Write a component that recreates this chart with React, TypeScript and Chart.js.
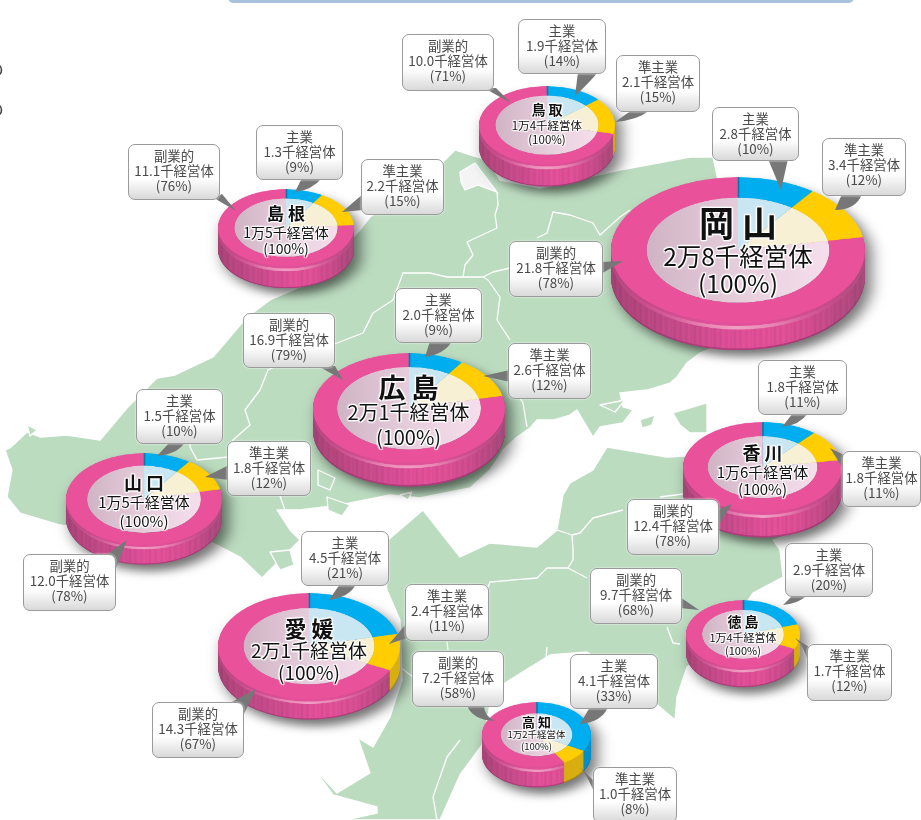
import React, { useEffect, useRef } from "react";
import { Chart, registerables } from "chart.js";

Chart.register(...registerables);

const FONT = '"Noto Sans CJK JP", "Noto Sans", sans-serif';

// ---------- data ----------
const prefectures = ["鳥 取", "島 根", "岡 山", "広 島", "山 口", "徳 島", "香 川", "愛 媛", "高 知"];
const totals = ["1万4千経営体", "1万5千経営体", "2万8千経営体", "2万1千経営体", "1万5千経営体", "1万4千経営体", "1万6千経営体", "2万1千経営体", "1万2千経営体"];
const categories = ["主業", "準主業", "副業的"];
const mainValues = [1.9, 1.3, 2.8, 2.0, 1.5, 2.9, 1.8, 4.5, 4.1];
const semiValues = [2.1, 2.2, 3.4, 2.6, 1.8, 1.7, 1.8, 2.4, 1.0];
const sideValues = [10.0, 11.1, 21.8, 16.9, 12.0, 9.7, 12.4, 14.3, 7.2];
const mainShares = [14, 9, 10, 9, 10, 20, 11, 21, 33];
const semiShares = [15, 15, 12, 12, 12, 12, 11, 11, 8];
const sideShares = [71, 76, 78, 79, 78, 68, 78, 67, 58];

// ---------- layout ----------
// cx, cy, rx, ry, depth, hole ratio
const pies = [
  [547, 125, 68, 39, 22, 0.76],
  [286, 228, 68, 38.5, 22, 0.76],
  [738, 250, 127, 73, 27, 0.72],
  [408.5, 408, 96, 55, 23, 0.75],
  [144, 499, 78, 46, 19, 0.73],
  [743, 634, 57, 34, 19, 0.72],
  [762.5, 467, 79.5, 45, 25, 0.69],
  [309, 646, 91, 53, 20, 0.72],
  [536.5, 734.5, 54.5, 32.5, 20, 0.66],
];
// y of name / amount / share, font size of name / others
const centerText = [
  [109, 125, 139, 14, 11.5],
  [213, 232, 248, 17, 14],
  [222, 255, 282, 35, 24.5],
  [387, 412, 437, 27, 20],
  [482, 502, 521, 18, 15],
  [621, 637, 650, 14, 11],
  [452, 472, 489, 18, 15],
  [627, 650, 672, 22, 19],
  [722, 734, 746, 13, 9.5],
];
// per pie: callout boxes for 主業, 準主業, 副業的: left, top, right, bottom, pointer path
type Box = [number, number, number, number, string];
const boxes: Box[][] = [
  [[518, 19, 606, 74, "M578 72 L598 72 Q590 82 575 96 Z"], [616, 55, 700, 112, "M632 110 L650 110 Q638 120 615 122 Z"], [402, 34, 494, 91, "M484 88 L496 88 L511 103 Z"]],
  [[256, 125, 343, 180, "M302 178 L322 178 Q312 190 295 192 Z"], [361, 159, 444, 215, "M363 194 L363 210 L342 212 Z"], [128, 144, 220, 200, "M214 198 L222 194 L236 211 Z"]],
  [[712, 107, 799, 161, "M768 159 L788 159 L781 190 Z"], [822, 138, 906, 196, "M842 194 L862 194 Q856 210 835 210 Z"], [509, 241, 603, 297, "M601 262 L601 274 L623 261 Z"]],
  [[395, 288, 482, 343, "M430 341 L452 341 Q445 354 425 357 Z"], [508, 343, 591, 399, "M510 370 L510 382 L483 376 Z"], [243, 313, 335, 368, "M318 366 L335 366 L343 380 Z"]],
  [[136, 389, 223, 444, "M170 442 L185 442 Q178 454 157 456 Z"], [227, 441, 311, 496, "M229 465 L229 480 L205 477 Z"], [23, 554, 116, 611, "M105 556 L116 568 L127 540 Z"]],
  [[785, 543, 873, 597, "M793 595 L807 595 Q800 603 783 605 Z"], [807, 644, 892, 701, "M809 647 L809 667 Q806 648 795 638 Z"], [590, 568, 682, 624, "M680 597 L680 608 L699 610 Z"]],
  [[758, 360, 847, 415, "M793 413 L808 413 Q800 425 782 427 Z"], [842, 451, 921, 507, "M844 455 L844 470 L830 448 Z"], [627, 499, 719, 555, "M717 510 L717 528 L732 504 Z"]],
  [[301, 531, 389, 586, "M340 584 L356 584 Q350 597 329 600 Z"], [405, 584, 489, 641, "M407 623 L407 638 L389 644 Z"], [152, 702, 244, 758, "M228 704 L242 718 L256 689 Z"]],
  [[570, 654, 658, 709, "M590 707 L608 707 Q602 722 580 724 Z"], [593, 767, 677, 823, "M595 782 L595 795 Q590 780 580 767 Z"], [412, 651, 504, 707, "M467 705 L484 705 Q484 716 495 721 Q472 720 467 705 Z"]],
];

const coastHonshu =
  "M10 448 L27 432 L40 437 L67 435 L100 440 L127 408 L157 378 L175 375 L213 357 L247 317 L270 300 L305 285 L360 230 L370 217 L440 165 L455 150 L470 155 L487 160 L500 180 L540 188 L620 170 L690 157 L713 157 L718 180 L730 340 L700 353 L687 363 L677 377 L670 383 L647 390 L620 393 L623 407 L633 410 L623 423 L600 427 L593 437 L577 410 L570 415 L553 420 L537 420 L530 428 L517 437 L503 450 L490 470 L470 488 L420 498 L390 495 L340 505 L300 510 L277 510 L290 530 L300 540 L262 578 L240 557 L213 543 L150 540 L60 525 L20 513 L7 497 L12 470 L5 450 Z";
const coastShikoku =
  "M570 483 L563 495 L557 530 L537 547 L490 543 L460 557 L423 510 L388 540 L383 560 L387 590 L400 620 L402 680 L390 717 L373 747 L358 738 L370 773 L337 793 L313 767 L333 795 L377 807 L377 813 L345 820 L440 820 L460 775 L482 745 L490 705 L505 683 L550 655 L587 652 L640 690 L675 720 L677 697 L687 667 L720 640 L753 593 L783 577 L780 550 L773 540 L800 530 L780 470 L700 455 L667 457 L607 447 L593 470 Z";
const islands = [
  "M673 413 L707 403 L707 433 L690 433 L680 425 Z",
  "M640 420 L655 415 L652 425 L642 428 Z",
  "M270 552 L290 550 L294 565 L280 570 Z",
  "M318 470 L335 478 L330 490 L318 485 Z",
  "M327 497 L350 505 L342 516 L328 510 Z",
  "M27 425 L37 430 L30 436 Z",
  "M600 405 L625 400 L615 412 Z",
  "M400 495 L412 492 L408 500 Z",
];
const lake = "M460 172 L475 163 L497 192 L478 185 L465 190 L461 182 Z";
const borders = [
  "M190 444 L190 447 L197 460 L228 457 L233 440 L250 425 L245 410 L260 390 L268 370 L300 355 L337 343 L363 333 L373 313 L393 300 L403 273 L430 273 L447 277 L463 277 L483 277 L488 280 L500 297 L497 320 L510 340",
  "M483 277 L493 272 L510 268",
  "M497 192 L498 205 L495 215 L497 228 L467 242 L473 255 L465 265 L463 277",
  "M537 238 L547 233 L553 212 L570 215 L593 223 L600 235 L620 217 L630 210",
  "M520 398 L523 403 L525 415 L527 427",
  "M280 496 L285 510",
  "M557 530 L572 535 L573 550 L573 560 L568 568 L587 578",
  "M572 535 L580 533 L593 518 L623 510",
  "M568 568 L547 568 L537 578 L490 582 L488 587",
  "M447 642 L448 650",
  "M400 667 L413 677",
  "M460 740 L447 757 L433 797 L437 820",
  "M667 627 L673 643 L680 644",
  "M660 497 L683 494",
  "M547 647 L546 658",
];

// ---------- styles helpers ----------
const BLUE = "#00aeef";
const YELLOW = "#ffcd00";
const PINK = "#e9529b";
const STRIPE = [0, 0.05, 0.02, 0.09, 0.01, 0.04, 0.07, 0, 0.03, 0.06];
const hex = (c: string) => [1, 3, 5].map((i) => parseInt(c.slice(i, i + 2), 16));

function wallGradient(ctx: CanvasRenderingContext2D, W: number, palette: string[], striped: boolean) {
  const g = ctx.createLinearGradient(0, 0, W, 0);
  const n = striped ? Math.round(W / 2) : palette.length - 1;
  for (let s = 0; s <= n; s++) {
    const p = (s / n) * (palette.length - 1);
    const a = hex(palette[Math.floor(p)]);
    const b = hex(palette[Math.min(Math.floor(p) + 1, palette.length - 1)]);
    const t = p - Math.floor(p);
    const m = 1 - (striped ? STRIPE[s % STRIPE.length] : 0);
    const rgb = a.map((v, i) => Math.round((v + (b[i] - v) * t) * m));
    g.addColorStop(s / n, `rgb(${rgb.join(",")})`);
  }
  return g;
}

function makeSidePlugin(depthPx: number, W: number) {
  return {
    id: "sideWall",
    beforeDatasetsDraw(chart: any) {
      const ctx: CanvasRenderingContext2D = chart.ctx;
      const body = wallGradient(ctx, W, ["#a8457a", "#bc4882", "#c84c8c", "#d24e92", "#e0509a", "#e8529c", "#e6529b", "#d94f94", "#c04c88", "#a84c7c"], true);
      const rim = wallGradient(ctx, W, ["#b04a80", "#c84d8c", "#d8609c", "#e888b6", "#f0a0c4", "#e888b6", "#d8609c", "#c54c8a", "#a8507e"], false);
      const lip = wallGradient(ctx, W, ["#b4447e", "#cc4c8e", "#e2509a", "#e2509a", "#cc4c8e", "#ac4a7c"], false);
      const edge = wallGradient(ctx, W, ["#90386a", "#b03c7c", "#b03c7c", "#90386a"], false);
      const wallFor = (idx: number, f: number): any => {
        if (idx === 0) return f > 0.95 ? "#0079a8" : "#0090c8";
        if (idx === 1) return f > 0.95 ? "#a88a08" : "#d8ae12";
        return f > 0.95 ? edge : f > 0.12 && f <= 0.24 ? rim : f <= 0.12 ? lip : body;
      };
      const arcs = chart.getDatasetMeta(0).data;
      for (let i = depthPx; i >= 1; i--) {
        ctx.save();
        ctx.translate(0, i);
        arcs.forEach((arc: any, idx: number) => {
          const saved = arc.options;
          arc.options = { ...saved, backgroundColor: wallFor(idx, i / depthPx) };
          arc.draw(ctx);
          arc.options = saved;
        });
        ctx.restore();
      }
    },
    afterDatasetsDraw(chart: any) {
      const ctx: CanvasRenderingContext2D = chart.ctx;
      const a = chart.getDatasetMeta(0).data[0];
      ctx.save();
      ctx.strokeStyle = "#0a78a6";
      ctx.lineWidth = 1.6;
      ctx.beginPath();
      ctx.moveTo(a.x + 0.5, a.y - a.outerRadius);
      ctx.lineTo(a.x + 0.5, a.y - a.innerRadius);
      ctx.stroke();
      ctx.restore();
    },
  };
}

function Pie({ index }: { index: number }) {
  const ref = useRef<HTMLCanvasElement>(null);
  const [cx, cy, rx, ry, depth, hole] = pies[index];
  const k = ry / rx;
  const depthPx = Math.ceil(depth / k);
  const W = Math.ceil(2 * rx + 4);
  const H = Math.ceil(2 * rx + depthPx + 4);
  useEffect(() => {
    const canvas = ref.current!;
    const ctx = canvas.getContext("2d")!;
    const innerPink = ctx.createLinearGradient(rx * (1 - hole) + 2, 0, rx * (1 + hole) + 2, 0);
    innerPink.addColorStop(0, "#d0b4c5");
    innerPink.addColorStop(0.55, "#e8d0de");
    innerPink.addColorStop(1, "#f6dfed");
    const values = [mainValues[index], semiValues[index], sideValues[index]];
    const chart = new Chart(canvas, {
      type: "doughnut",
      data: {
        labels: categories,
        datasets: [
          { data: values, backgroundColor: [BLUE, YELLOW, PINK], borderWidth: 0, weight: 1 - hole },
          { data: values, backgroundColor: ["#c9e7f3", "#f7f0d4", innerPink], borderWidth: 0, weight: hole },
        ],
      },
      options: {
        responsive: false,
        animation: false,
        cutout: 0,
        layout: { padding: { left: 2, right: 2, top: 2, bottom: H - W + 2 } },
        plugins: { legend: { display: false }, tooltip: { enabled: false } },
      },
      plugins: [makeSidePlugin(depthPx, W)],
    } as any);
    return () => chart.destroy();
  }, []);
  return (
    <div
      style={{
        position: "absolute",
        left: cx - rx - 2,
        top: cy - ry - 2 * k,
        width: W,
        height: H,
        transform: `scaleY(${k})`,
        transformOrigin: "0 0",
        filter: "drop-shadow(6px 11px 8px rgba(0,0,0,0.55))",
      }}
    >
      <canvas ref={ref} width={W} height={H} style={{ display: "block" }} />
    </div>
  );
}

const halo = "0 0 2px #fff,0 0 2px #fff,0 0 3px #fff,1px 1px 1px #fff,-1px -1px 1px #fff,1px -1px 1px #fff,-1px 1px 1px #fff";

function CenterLabel({ index }: { index: number }) {
  const [cx] = pies[index];
  const [y1, y2, y3, f1, f2] = centerText[index];
  const line = (text: string, y: number, size: number, weight: number) => (
    <div
      style={{
        position: "absolute",
        left: cx - 120,
        width: 240,
        top: y - size,
        height: size * 2,
        lineHeight: `${size * 2}px`,
        textAlign: "center",
        fontSize: size,
        fontWeight: weight,
        color: "#111",
        textShadow: halo,
        whiteSpace: "pre",
      }}
    >
      {text}
    </div>
  );
  return (
    <>
      {line(prefectures[index], y1, f1, 700)}
      {line(totals[index], y2, f2, 400)}
      {line("(100%)", y3, f2, 400)}
    </>
  );
}

function Callout({ box, cat, value, share }: { box: Box; cat: string; value: number; share: number }) {
  const [l, t, r, b] = box;
  return (
    <div
      style={{
        position: "absolute",
        left: l,
        top: t,
        width: r - l,
        height: b - t,
        boxSizing: "border-box",
        border: "1px solid #9a9a9a",
        borderRadius: 7,
        background: "linear-gradient(#ffffff 0%, #ffffff 62%, #d9d9d9 100%)",
        boxShadow: "0 0 2px #fff",
        color: "#4a4a4a",
        fontSize: 13.4,
        lineHeight: "15px",
        textAlign: "center",
        paddingTop: 3,
        whiteSpace: "nowrap",
      }}
    >
      <div>{cat}</div>
      <div>{value.toFixed(1)}千経営体</div>
      <div>({share}%)</div>
    </div>
  );
}

export default function App() {
  const shares = [mainShares, semiShares, sideShares];
  const vals = [mainValues, semiValues, sideValues];
  return (
    <div style={{ position: "absolute", left: 0, top: 0, width: 921, height: 820, overflow: "hidden", background: "#fff", fontFamily: FONT }}>
      <svg width={921} height={820} style={{ position: "absolute", left: 0, top: 0 }}>
        <rect x={228} y={-8} width={626} height={11} rx={6} fill="#a9c1dd" />
        <circle cx={-4.5} cy={70} r={6} fill="none" stroke="#444" strokeWidth={1.6} />
        <circle cx={-4.5} cy={110} r={6} fill="none" stroke="#444" strokeWidth={1.6} />
        <g fill="#bcdcc0" stroke="#fff" strokeWidth={1.3} strokeLinejoin="round">
          <path d={coastHonshu} />
          <path d={coastShikoku} />
          {islands.map((d, i) => <path key={i} d={d} />)}
        </g>
        <path d={lake} fill="#f4f4f4" stroke="#fff" strokeWidth={1.3} />
        <g fill="none" stroke="#fff" strokeWidth={1.3} strokeLinejoin="round">
          {borders.map((d, i) => <path key={i} d={d} />)}
        </g>
      </svg>
      {prefectures.map((_, i) => <Pie key={i} index={i} />)}
      {prefectures.map((_, i) => <CenterLabel key={i} index={i} />)}
      <svg width={921} height={820} style={{ position: "absolute", left: 0, top: 0 }}>
        {boxes.map((set, i) => set.map((b, j) => <path key={`${i}-${j}`} d={b[4]} fill="#777" />))}
      </svg>
      {boxes.map((set, i) =>
        set.map((b, j) => (
          <Callout key={`${i}-${j}`} box={b} cat={categories[j]} value={vals[j][i]} share={shares[j][i]} />
        ))
      )}
    </div>
  );
}
